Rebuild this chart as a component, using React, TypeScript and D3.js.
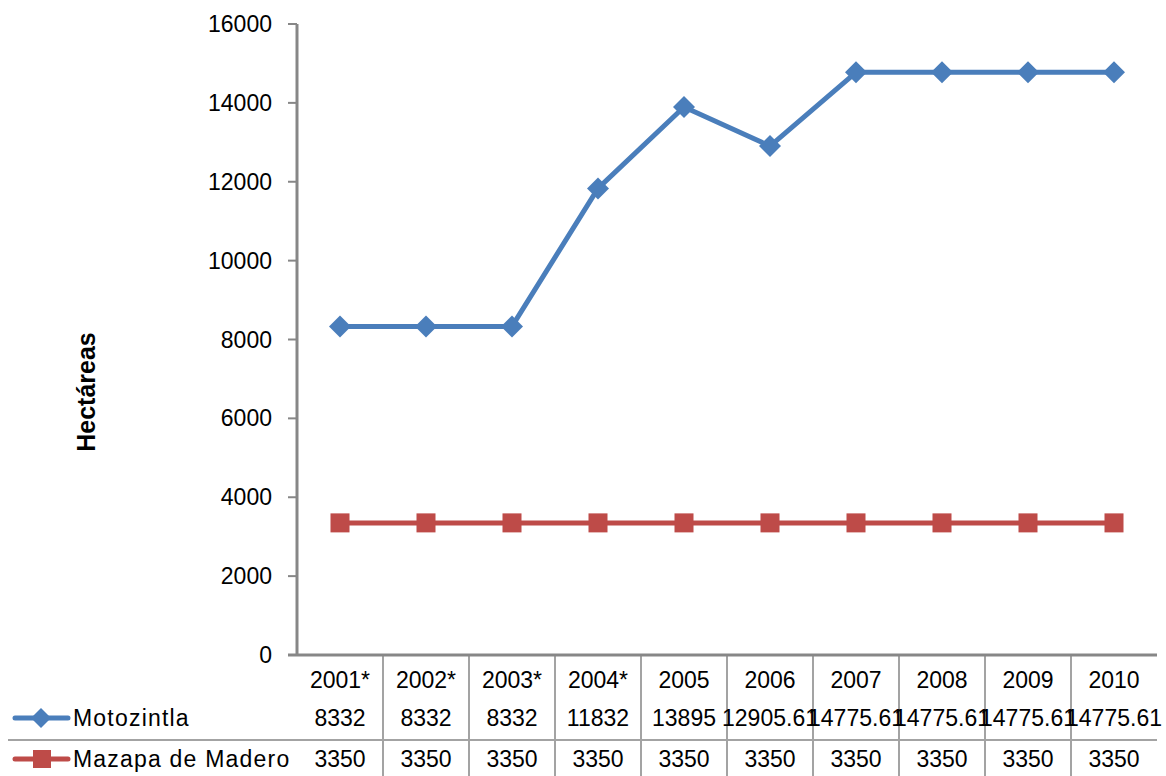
import React from "react";
import * as d3 from "d3";

const categories = ["2001*", "2002*", "2003*", "2004*", "2005", "2006", "2007", "2008", "2009", "2010"];
const motozintla = [8332, 8332, 8332, 11832, 13895, 12905.61, 14775.61, 14775.61, 14775.61, 14775.61];
const mazapa = [3350, 3350, 3350, 3350, 3350, 3350, 3350, 3350, 3350, 3350];
const yTicks = [0, 2000, 4000, 6000, 8000, 10000, 12000, 14000, 16000];
const seriesNames = ["Motozintla", "Mazapa  de Madero"];
const yLabel = "Hectáreas";

const W = 1166, H = 776;
const left = 297, right = 1157, top = 24, bottom = 655;
const BLUE = "#4A7EBB";
const RED = "#BE4B48";
const AXIS = "#878787";
const GRID = "#A3A3A3";
const FONT = "'Liberation Sans', Arial, sans-serif";

export default function App() {
  const x = d3.scaleBand<string>().domain(categories).range([left, right]);
  const y = d3.scaleLinear().domain([0, 16000]).range([bottom, top]);
  const cx = (c: string) => (x(c) as number) + x.bandwidth() / 2;
  const line = d3
    .line<number>()
    .x((_, i) => cx(categories[i]))
    .y((d) => y(d));

  const rows = [
    { name: seriesNames[0], vals: motozintla, color: BLUE, marker: "diamond", y: 718 },
    { name: seriesNames[1], vals: mazapa, color: RED, marker: "square", y: 759 },
  ];

  const diamond = (px: number, py: number, r: number) =>
    `M${px},${py - r}L${px + r},${py}L${px},${py + r}L${px - r},${py}Z`;

  return (
    <svg width={W} height={H} style={{ position: "absolute", left: 0, top: 0, background: "#fff" }}>
      {categories.slice(1).map((c) => (
        <line key={"v" + c} x1={x(c)} x2={x(c)} y1={bottom} y2={H} stroke={GRID} strokeWidth={2} />
      ))}
      <line x1={8} x2={right} y1={740} y2={740} stroke={GRID} strokeWidth={2} />

      <line x1={left} x2={left} y1={top} y2={bottom} stroke={AXIS} strokeWidth={3} />
      {yTicks.map((t) => (
        <g key={t}>
          <line x1={left - 9} x2={left} y1={y(t)} y2={y(t)} stroke={AXIS} strokeWidth={2} />
          <text x={272} y={y(t)} dy="0.35em" textAnchor="end" fontFamily={FONT} fontSize={23} fill="#000">
            {t}
          </text>
        </g>
      ))}
      <line x1={left - 9} x2={right} y1={bottom} y2={bottom} stroke={AXIS} strokeWidth={3} />

      <text
        transform={`translate(95,392) rotate(-90)`}
        textAnchor="middle"
        fontFamily={FONT}
        fontWeight="bold"
        fontSize={25}
        fill="#000"
      >
        {yLabel}
      </text>

      {rows.map((r) => (
        <g key={r.name}>
          <path d={line(r.vals) || ""} fill="none" stroke={r.color} strokeWidth={5} strokeLinejoin="round" />
          {r.vals.map((v, i) =>
            r.marker === "diamond" ? (
              <path key={i} d={diamond(cx(categories[i]), y(v), 11)} fill={r.color} />
            ) : (
              <rect key={i} x={cx(categories[i]) - 9.5} y={y(v) - 9.5} width={19} height={19} fill={r.color} />
            )
          )}
        </g>
      ))}

      {categories.map((c) => (
        <text key={"h" + c} x={cx(c)} y={680} dy="0.35em" textAnchor="middle" fontFamily={FONT} fontSize={23} fill="#000">
          {c}
        </text>
      ))}
      {rows.map((r) => (
        <g key={"row" + r.name}>
          <line x1={15} x2={68} y1={r.y} y2={r.y} stroke={r.color} strokeWidth={5} strokeLinecap="round" />
          {r.marker === "diamond" ? (
            <path d={diamond(41, r.y, 10)} fill={r.color} />
          ) : (
            <rect x={33} y={r.y - 9} width={18} height={18} fill={r.color} />
          )}
          <text x={73} y={r.y} dy="0.35em" fontFamily={FONT} fontSize={23} letterSpacing={1.2} fill="#000">
            {r.name}
          </text>
          {r.vals.map((v, i) => (
            <text key={i} x={cx(categories[i])} y={r.y} dy="0.35em" textAnchor="middle" fontFamily={FONT} fontSize={23} fill="#000">
              {String(v)}
            </text>
          ))}
        </g>
      ))}
    </svg>
  );
}
